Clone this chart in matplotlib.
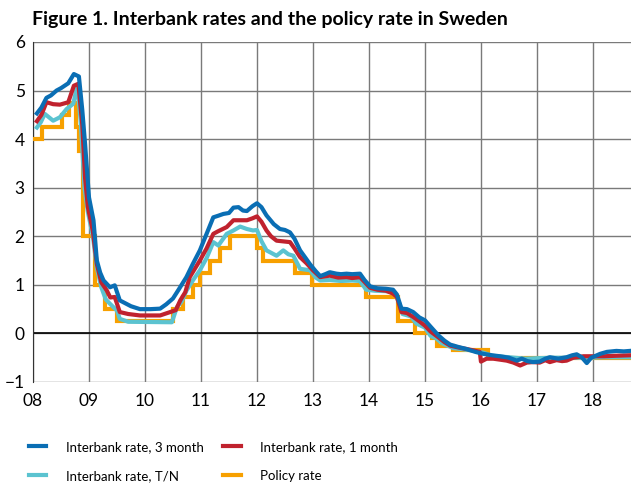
import numpy as np
import matplotlib.pyplot as plt

# Interbank rate, 3 month (decimal year, percent)
m3_t = [2008.07, 2008.15, 2008.24, 2008.32, 2008.42, 2008.50, 2008.63, 2008.73, 2008.82, 2008.88,
        2008.93, 2009.00, 2009.08, 2009.14, 2009.20, 2009.26, 2009.375, 2009.46, 2009.55, 2009.65,
        2009.75, 2009.91, 2010.10, 2010.27, 2010.38, 2010.50, 2010.60, 2010.74, 2010.85, 2010.98,
        2011.10, 2011.22, 2011.30, 2011.40, 2011.50, 2011.58, 2011.67, 2011.75, 2011.82, 2011.92,
        2012.00, 2012.08, 2012.17, 2012.30, 2012.41, 2012.50, 2012.59, 2012.67, 2012.77, 2012.87,
        2012.95, 2013.05, 2013.13, 2013.22, 2013.30, 2013.42, 2013.50, 2013.60, 2013.70, 2013.84,
        2013.92, 2014.02, 2014.15, 2014.30, 2014.43, 2014.50, 2014.58, 2014.68, 2014.79, 2014.90,
        2015.00, 2015.10, 2015.17, 2015.24, 2015.35, 2015.45, 2015.60, 2015.74, 2015.90, 2016.04,
        2016.20, 2016.34, 2016.50, 2016.64, 2016.73, 2016.83, 2016.93, 2017.05, 2017.15, 2017.23,
        2017.38, 2017.53, 2017.63, 2017.71, 2017.80, 2017.89, 2017.97, 2018.05, 2018.13, 2018.25,
        2018.42, 2018.55, 2018.66]
m3_v = [4.53, 4.65, 4.85, 4.90, 5.00, 5.05, 5.15, 5.34, 5.29, 4.60,
        3.90, 2.80, 2.33, 1.50, 1.25, 1.09, 0.95, 0.99, 0.68, 0.62,
        0.56, 0.50, 0.50, 0.51, 0.60, 0.72, 0.90, 1.16, 1.42, 1.71,
        2.05, 2.39, 2.42, 2.46, 2.48, 2.59, 2.60, 2.53, 2.52, 2.62,
        2.68, 2.60, 2.43, 2.25, 2.15, 2.13, 2.08, 1.95, 1.71, 1.55,
        1.42, 1.28, 1.18, 1.22, 1.26, 1.23, 1.22, 1.23, 1.22, 1.23,
        1.10, 0.97, 0.93, 0.92, 0.90, 0.80, 0.51, 0.50, 0.44, 0.33,
        0.27, 0.14, 0.05, -0.04, -0.15, -0.23, -0.28, -0.32, -0.38, -0.42,
        -0.45, -0.47, -0.50, -0.56, -0.52, -0.57, -0.59, -0.58, -0.52, -0.49,
        -0.52, -0.49, -0.45, -0.43, -0.49, -0.61, -0.50, -0.46, -0.42, -0.38,
        -0.36, -0.37, -0.36]

# Interbank rate, 1 month
m1_t = [2008.07, 2008.15, 2008.24, 2008.36, 2008.48, 2008.63, 2008.73, 2008.81, 2008.88, 2008.93,
        2008.98, 2009.07, 2009.14, 2009.22, 2009.32, 2009.38, 2009.46, 2009.55, 2009.70, 2009.91,
        2010.27, 2010.45, 2010.55, 2010.63, 2010.72, 2010.80, 2010.90, 2010.98, 2011.10, 2011.22,
        2011.30, 2011.46, 2011.58, 2011.82, 2011.92, 2012.00, 2012.08, 2012.17, 2012.25, 2012.35,
        2012.59, 2012.67, 2012.77, 2012.88, 2013.00, 2013.13, 2013.30, 2013.45, 2013.60, 2013.70,
        2013.84, 2013.93, 2014.02, 2014.15, 2014.30, 2014.43, 2014.50, 2014.58, 2014.68, 2014.79,
        2014.90, 2015.00, 2015.10, 2015.17, 2015.24, 2015.35, 2015.45, 2015.60, 2015.74, 2015.87,
        2015.98, 2016.00, 2016.10, 2016.22, 2016.34, 2016.46, 2016.58, 2016.70, 2016.82, 2016.93,
        2017.05, 2017.15, 2017.23, 2017.35, 2017.45, 2017.53, 2017.65, 2017.83, 2018.00, 2018.20,
        2018.40, 2018.66]
m1_v = [4.37, 4.50, 4.76, 4.72, 4.71, 4.76, 5.10, 5.14, 4.30, 3.20,
        2.60, 2.10, 1.43, 1.05, 0.88, 0.74, 0.75, 0.44, 0.40, 0.37,
        0.37, 0.44, 0.48, 0.68, 0.85, 1.16, 1.35, 1.50, 1.75, 2.05,
        2.10, 2.19, 2.33, 2.33, 2.37, 2.41, 2.30, 2.12, 2.00, 1.91,
        1.88, 1.75, 1.57, 1.45, 1.30, 1.16, 1.19, 1.15, 1.16, 1.14,
        1.16, 1.05, 0.94, 0.90, 0.88, 0.82, 0.75, 0.44, 0.42, 0.34,
        0.25, 0.16, 0.04, -0.02, -0.08, -0.18, -0.25, -0.29, -0.32, -0.35,
        -0.38, -0.58, -0.52, -0.52, -0.54, -0.56, -0.60, -0.66, -0.60, -0.59,
        -0.60, -0.55, -0.59, -0.55, -0.57, -0.56, -0.50, -0.47, -0.47, -0.47,
        -0.46, -0.45]

# Interbank rate, T/N
tn_t = [2008.07, 2008.14, 2008.21, 2008.36, 2008.48, 2008.60, 2008.72, 2008.79, 2008.85, 2008.92,
        2008.98, 2009.07, 2009.14, 2009.22, 2009.30, 2009.375, 2009.50, 2009.55, 2009.70, 2010.48,
        2010.57, 2010.65, 2010.74, 2010.86, 2010.98, 2011.10, 2011.22, 2011.31, 2011.46, 2011.58,
        2011.70, 2011.82, 2011.93, 2012.00, 2012.08, 2012.17, 2012.35, 2012.47, 2012.56, 2012.65,
        2012.77, 2012.95, 2013.05, 2013.13, 2013.30, 2013.50, 2013.70, 2013.84, 2013.95, 2014.10,
        2014.30, 2014.45, 2014.55, 2014.60, 2014.75, 2014.85, 2015.00, 2015.10, 2015.20, 2015.30,
        2015.50, 2015.70, 2015.90, 2016.05, 2016.20, 2016.40, 2016.60, 2016.80, 2017.00, 2017.30,
        2017.60, 2017.90, 2018.20, 2018.50, 2018.66]
tn_v = [4.24, 4.35, 4.52, 4.38, 4.45, 4.62, 4.73, 5.10, 4.40, 3.00,
        2.50, 2.00, 1.35, 0.95, 0.70, 0.61, 0.47, 0.30, 0.24, 0.23,
        0.54, 0.65, 0.88, 1.10, 1.30, 1.55, 1.88, 1.81, 2.05, 2.12,
        2.20, 2.15, 2.12, 2.13, 1.90, 1.71, 1.60, 1.71, 1.63, 1.60,
        1.33, 1.30, 1.15, 1.09, 1.10, 1.08, 1.09, 1.08, 0.90, 0.88,
        0.87, 0.86, 0.60, 0.40, 0.35, 0.20, 0.12, -0.05, -0.10, -0.20,
        -0.30, -0.33, -0.36, -0.40, -0.46, -0.48, -0.50, -0.52, -0.51, -0.50,
        -0.50, -0.50, -0.49, -0.49, -0.49]

# Policy rate, change dates and new level
pol_t = [2008.00, 2008.155, 2008.51, 2008.65, 2008.76, 2008.82, 2008.90, 2009.11, 2009.29, 2009.50,
         2010.50, 2010.68, 2010.86, 2010.98, 2011.16, 2011.34, 2011.52, 2012.00, 2012.11, 2012.68,
         2012.98, 2013.95, 2014.52, 2014.82, 2015.12, 2015.21, 2015.50, 2016.13, 2018.68]
pol_v = [4.00, 4.25, 4.50, 4.75, 4.25, 3.75, 2.00, 1.00, 0.50, 0.25,
         0.50, 0.75, 1.00, 1.25, 1.50, 1.75, 2.00, 1.75, 1.50, 1.25,
         1.00, 0.75, 0.25, 0.00, -0.10, -0.25, -0.35, -0.50, -0.50]

years = list(range(2008, 2019))
year_labels = ['08', '09', '10', '11', '12', '13', '14', '15', '16', '17', '18']

c_3m = '#0a6eb4'
c_1m = '#c0222e'
c_tn = '#5bc3d0'
c_pol = '#f7a000'

plt.rcParams['font.family'] = ['Lato', 'DejaVu Sans']

fig = plt.figure(figsize=(6.31, 4.84), dpi=100)
ax = fig.add_axes([33 / 631, 1 - 382 / 484, 1 - 33 / 631, 340 / 484])

lw = 3.0
ax.plot(pol_t, pol_v, drawstyle='steps-post', color=c_pol, lw=lw, label='Policy rate',
        solid_joinstyle='miter', zorder=3)
ax.plot(tn_t, tn_v, color=c_tn, lw=lw, label='Interbank rate, T/N', zorder=4)
ax.plot(m1_t, m1_v, color=c_1m, lw=lw, label='Interbank rate, 1 month', zorder=5)
ax.plot(m3_t, m3_v, color=c_3m, lw=lw, label='Interbank rate, 3 month', zorder=6)

ax.set_xlim(2008, 2018.68)
ax.set_ylim(-1, 6)
ax.set_xticks(years)
ax.set_xticklabels(year_labels)
ax.set_yticks(range(-1, 7))
ax.grid(True, color='#7a7a7a', lw=1.0)
ax.set_axisbelow(True)
ax.axhline(0, color='black', lw=1.2, zorder=2)
for s in ['top', 'right', 'bottom']:
    ax.spines[s].set_visible(False)
ax.spines['left'].set_color('#333333')
ax.tick_params(length=0, labelsize=12.5)
ax.tick_params(axis='x', pad=8)
ax.tick_params(axis='y', pad=6)

fig.text(32 / 631, 1 - 20 / 484, 'Figure 1. Interbank rates and the policy rate in Sweden',
         fontsize=14, fontweight='bold', va='center', ha='left')

h, l = ax.get_legend_handles_labels()
order = [3, 1, 2, 0]
fig.legend([h[i] for i in order], [l[i] for i in order], ncol=2, frameon=False,
           loc='upper left', bbox_to_anchor=(17 / 631, 1 - 429 / 484), fontsize=9.5,
           handlelength=1.3, handletextpad=1.5, columnspacing=1.5, labelspacing=1.3)

fig.savefig('out.png', dpi=100)
